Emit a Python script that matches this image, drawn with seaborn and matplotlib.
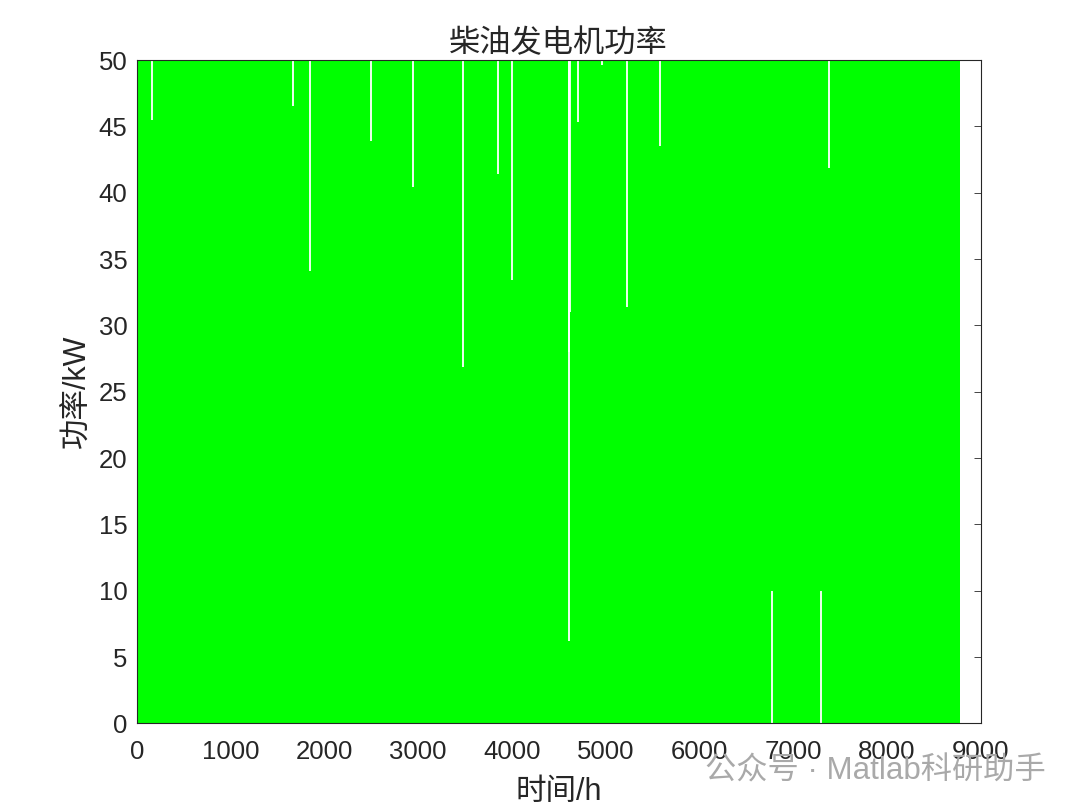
#!/usr/bin/env python3
# -*- coding: utf-8 -*-
"""Diesel generator power over one year (hourly), MATLAB-style area look."""

import matplotlib
matplotlib.use("Agg")
import matplotlib.pyplot as plt
import seaborn as sns

# hours covered by the series and the power band it swings through
hours = [0, 8784]
power_min = [0, 0]
power_max = [50, 50]

# hours where the trace does not reach the top (value it bottoms out at)
top_gap_hours = [160, 1668, 1846, 2494, 2942, 3478, 3855, 4001,
                 4605, 4613, 4622, 4705, 4962, 5225, 5584, 7386]
top_gap_levels = [45.5, 46.5, 34.1, 43.9, 40.4, 26.9, 41.4, 33.4,
                  6.2, 28.0, 31.0, 45.3, 49.6, 31.4, 43.5, 41.9]

# hours where the trace does not reach zero (value it peaks at)
bottom_gap_hours = [6775, 7300]
bottom_gap_levels = [10.0, 10.0]

x_ticks = [0, 1000, 2000, 3000, 4000, 5000, 6000, 7000, 8000, 9000]
y_ticks = [0, 5, 10, 15, 20, 25, 30, 35, 40, 45, 50]

sns.set_style("white")
plt.rcParams['font.family'] = ['Liberation Sans', 'Noto Sans CJK SC']
plt.rcParams['axes.unicode_minus'] = False

fig = plt.figure(figsize=(10.8, 8.09), dpi=100)
ax = fig.add_axes([0.1269, 0.1057, 0.781, 0.8201])

green = '#00ff00'
ax.fill_between(hours, power_min, power_max, color=green, linewidth=0)
ax.vlines(top_gap_hours, top_gap_levels, 50, colors='white', linewidth=1.3)
ax.vlines(bottom_gap_hours, 0, bottom_gap_levels, colors='white', linewidth=1.3)

ax.set_xlim(0, 9000)
ax.set_ylim(0, 50)
ax.set_xticks(x_ticks)
ax.set_yticks(y_ticks)

dark = '#262626'
for side in ['left', 'right', 'top', 'bottom']:
    ax.spines[side].set_visible(True)
    ax.spines[side].set_color(dark)
    ax.spines[side].set_linewidth(0.8)
ax.tick_params(direction='in', length=5, width=0.6, colors=dark,
               labelsize=18.5, top=True, right=True)
ax.tick_params(axis='x', pad=12)
ax.tick_params(axis='y', pad=7)
for lbl in ax.get_xticklabels() + ax.get_yticklabels():
    lbl.set_color(dark)

ax.set_title('柴油发电机功率', fontsize=22.5, color=dark, pad=6)
ax.set_xlabel('时间/h', fontsize=22, color=dark, labelpad=9)
ax.set_ylabel('功率/kW', fontsize=22, color=dark, labelpad=4)

# watermark (overlaps the last tick labels, as in the source image)
fig.text(0.968, 0.046, '公众号 · Matlab科研助手', ha='right', va='center',
         fontsize=22.5, color='#a9a9a9')

fig.savefig('out.png', dpi=100)
